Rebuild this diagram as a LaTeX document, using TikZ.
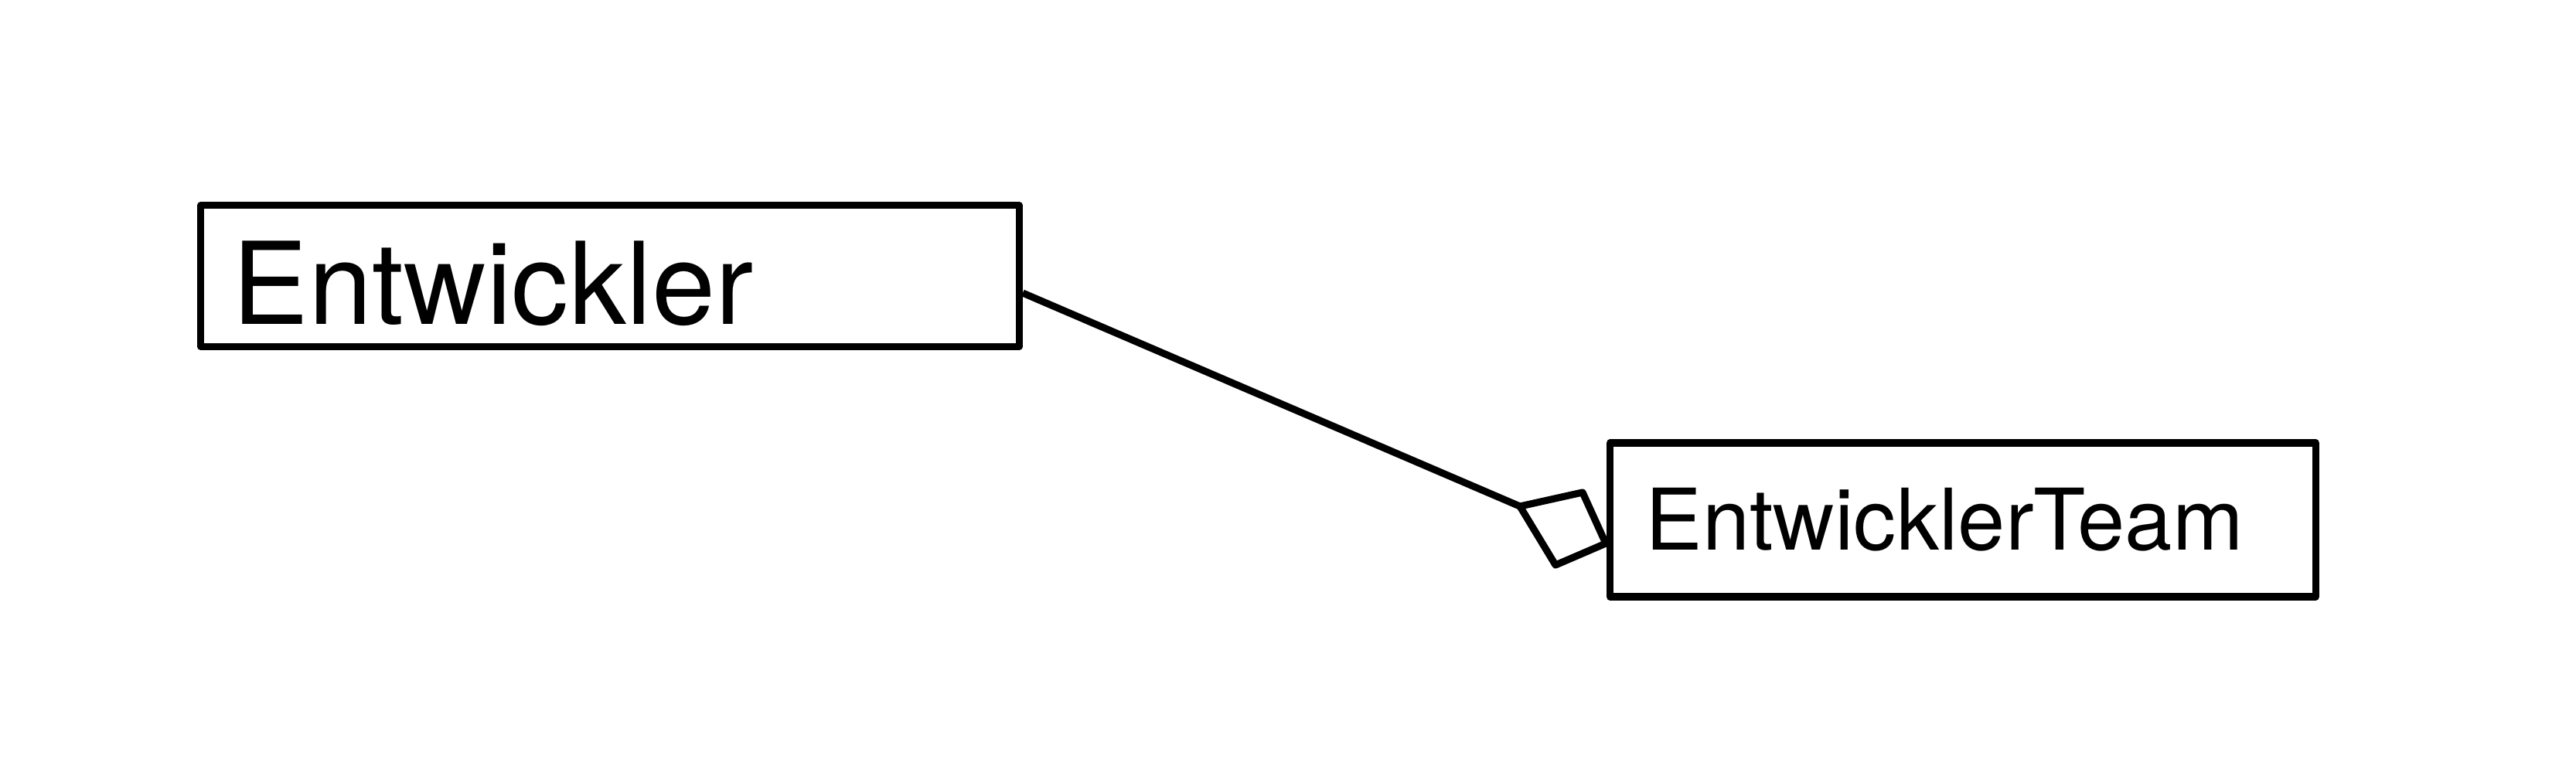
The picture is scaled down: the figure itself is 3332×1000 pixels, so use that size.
\documentclass[tikz,border=0pt]{standalone}
\usepackage{fontspec}
\setmainfont{TeX Gyre Heros}
\usetikzlibrary{calc}
\begin{document}
\begin{tikzpicture}[x=0.01cm,y=-0.01cm,line join=round,
  classbox/.style={draw=black,line width=2.6pt,rectangle,inner sep=0pt,fill=white},
  conn/.style={draw=black,line width=2.6pt}]
\useasboundingbox[fill=white] (0,0) rectangle (3332,1000);
\node[classbox,minimum width=10.58cm,minimum height=1.825cm] (e) at (789,357) {};
\node[anchor=base west,inner sep=0pt,font=\fontsize{42pt}{48pt}\selectfont] (et) at (300,419) {Entwickler};
\node[classbox,minimum width=9.12cm,minimum height=1.99cm] (t) at (2539,672.5) {};
\node[anchor=base west,inner sep=0pt,font=\fontsize{31.3pt}{36pt}\selectfont] (tt) at (2128,711) {EntwicklerTeam};
\coordinate (s) at ($(e.east)+(0,22)$);
\coordinate (d1) at (1966,655);
\coordinate (d2) at (2047,637);
\coordinate (d3) at (2077,703);
\coordinate (d4) at (2012,731);
\draw[conn] (s) -- (d1);
\draw[conn] (d1) -- (d2) -- (d3) -- (d4) -- cycle;
\end{tikzpicture}
\end{document}
